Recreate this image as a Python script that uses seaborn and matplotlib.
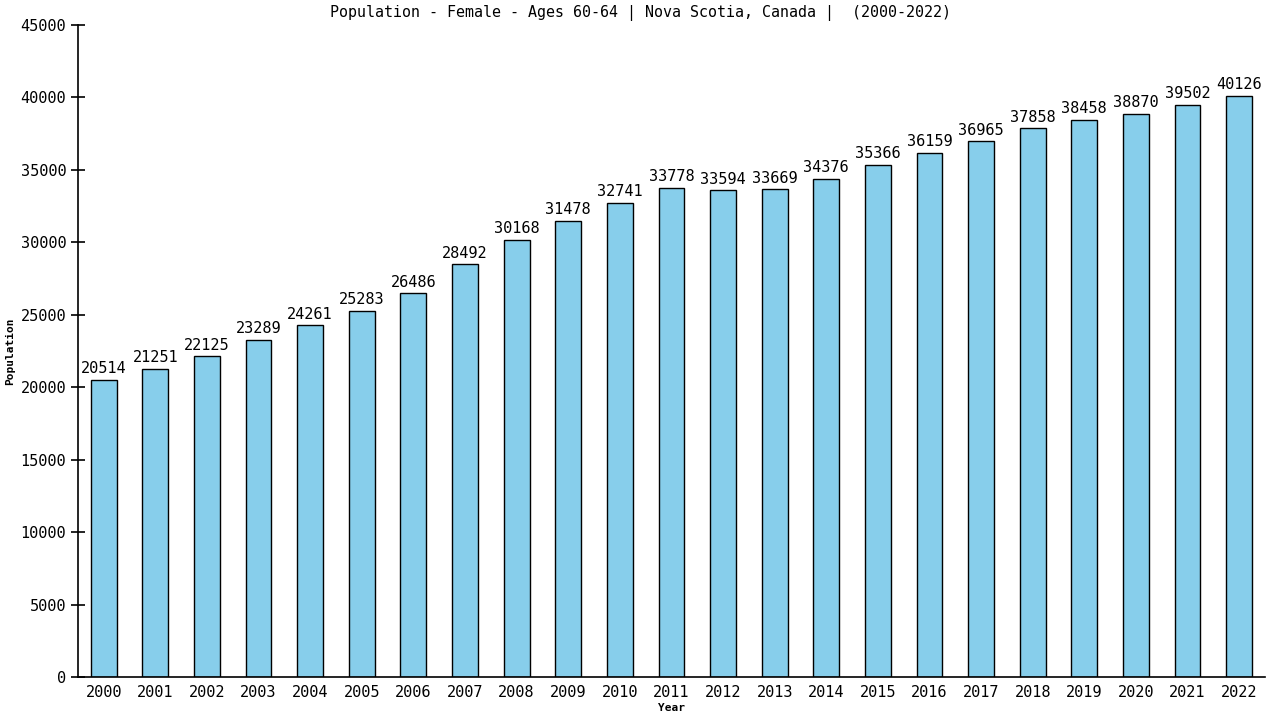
import matplotlib
matplotlib.use("Agg")
import matplotlib.pyplot as plt
import seaborn as sns
import pandas as pd

# data
years = [str(y) for y in range(2000, 2023)]
population = [20514, 21251, 22125, 23289, 24261, 25283, 26486, 28492, 30168, 31478,
              32741, 33778, 33594, 33669, 34376, 35366, 36159, 36965, 37858, 38458,
              38870, 39502, 40126]
yticks = list(range(0, 45001, 5000))

df = pd.DataFrame({"Year": years, "Population": population})

sns.set_style("white")
plt.rcParams["font.family"] = ["DejaVu Sans Mono", "DejaVu Sans"]

fig = plt.figure(figsize=(12.8, 7.2), dpi=100)
ax = fig.add_axes([0.0609, 0.0597, 0.9273, 0.9056])

sns.barplot(data=df, x="Year", y="Population", color="#87ceeb", width=0.5,
            edgecolor="black", linewidth=1.0, saturation=1, ax=ax)

for i, v in enumerate(population):
    ax.text(i, v + 250, str(v), ha="center", va="bottom", fontsize=11, color="black")

ax.set_xlim(-0.5, len(years) - 0.5)
ax.set_ylim(0, 45000)
ax.set_yticks(yticks)
ax.set_yticklabels([str(t) for t in yticks])
ax.tick_params(axis="y", left=True, direction="inout", length=10, width=1.2,
               labelsize=11, colors="black")
ax.tick_params(axis="x", bottom=False, length=0, labelsize=11, pad=6, colors="black")
sns.despine(ax=ax)
for s in ["left", "bottom"]:
    ax.spines[s].set_color("black")
    ax.spines[s].set_linewidth(1.2)

ax.set_xlabel("Year", fontsize=8, fontweight="bold", labelpad=2, color="black")
ax.set_ylabel("Population", fontsize=8, fontweight="bold", labelpad=4, color="black")
# title is centred on the figure, not the axes
fig.text(0.5, 0.982, "Population - Female - Ages 60-64 | Nova Scotia, Canada |  (2000-2022)",
         ha="center", va="center", fontsize=10.8, color="black")

fig.savefig("out.png", dpi=100)
